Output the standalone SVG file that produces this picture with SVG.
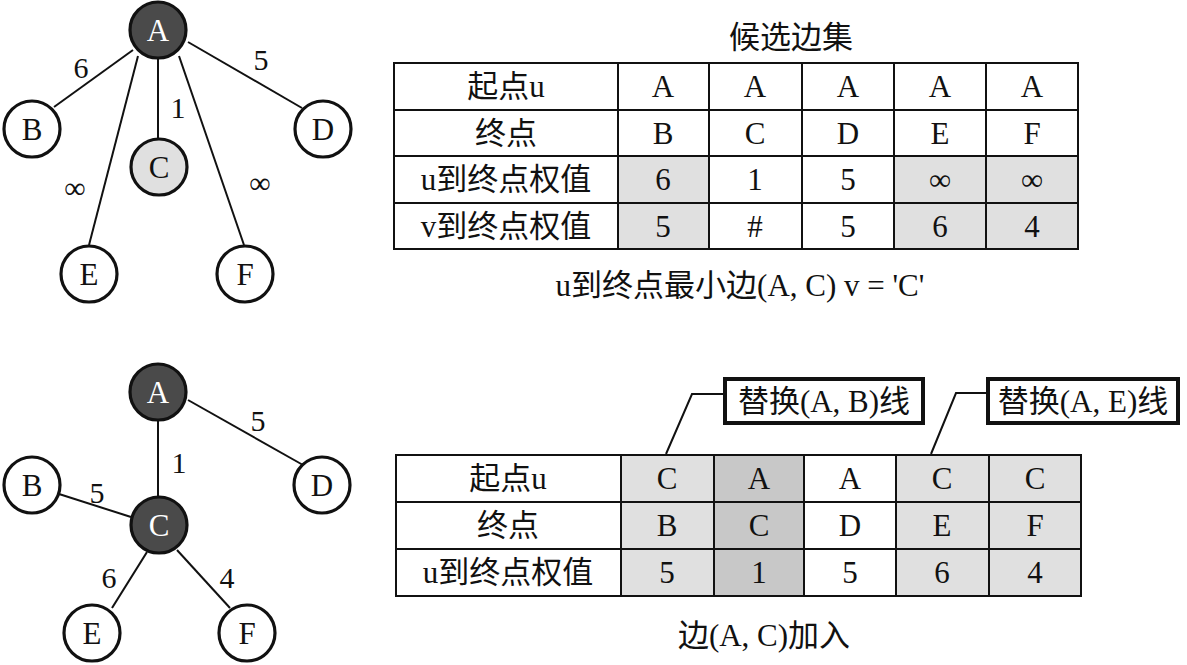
<svg xmlns="http://www.w3.org/2000/svg" width="1187" height="665" viewBox="0 0 1187 665">
<style>
text{font-family:"Liberation Serif","Noto Sans CJK SC",serif;fill:#111;text-anchor:middle}
.n circle{stroke:#111;stroke-width:3.2;fill:#fff}
.n text{font-size:31px}
.dk circle{fill:#4a4a4a}
.dk text{fill:#fff}
.lt circle{fill:#e0e0e0}
.e line{stroke:#111;stroke-width:2}
.w{font-size:30px}
.t{font-size:31px}
.g{fill:#e0e0e0}
.g2{fill:#c8c8c8}
.grid{stroke:#111;stroke-width:2;fill:none}
.cb{fill:#fff;stroke:#111;stroke-width:4}
.ld{stroke:#111;stroke-width:2;fill:none}
</style>
<rect width="1187" height="665" fill="#fff"/>

<!-- top graph connectors -->
<g id="edges-top" class="e">
<line x1="133" y1="50" x2="54" y2="107"/>
<line x1="158" y1="58" x2="158" y2="139"/>
<line x1="138" y1="56" x2="89" y2="245"/>
<line x1="179" y1="56" x2="244" y2="245"/>
<line x1="188" y1="42" x2="302" y2="108"/>
</g>
<g id="edge-labels-top" class="w">
<text x="81" y="78">6</text>
<text x="261" y="70">5</text>
<text x="178" y="118">1</text>
<text x="75" y="198">∞</text>
<text x="260" y="193">∞</text>
</g>
<g id="tA" class="n dk"><circle cx="158" cy="30" r="28"/><text x="158" y="41">A</text></g>
<g id="tB" class="n"><circle cx="32" cy="129" r="28"/><text x="32" y="140">B</text></g>
<g id="tC" class="n lt"><circle cx="159" cy="167" r="28"/><text x="159" y="178">C</text></g>
<g id="tD" class="n"><circle cx="323" cy="129" r="28"/><text x="323" y="140">D</text></g>
<g id="tE" class="n"><circle cx="89" cy="274" r="28"/><text x="89" y="285">E</text></g>
<g id="tF" class="n"><circle cx="245" cy="274" r="28"/><text x="245" y="285">F</text></g>

<!-- bottom graph connectors -->
<g id="edges-bottom" class="e">
<line x1="158" y1="420" x2="158" y2="497"/>
<line x1="188" y1="400" x2="303" y2="465"/>
<line x1="59" y1="494" x2="131" y2="517"/>
<line x1="147" y1="552" x2="112" y2="608"/>
<line x1="177" y1="550" x2="230" y2="608"/>
</g>
<g id="edge-labels-bottom" class="w">
<text x="258" y="431">5</text>
<text x="179" y="473">1</text>
<text x="97" y="503">5</text>
<text x="109" y="588">6</text>
<text x="227" y="588">4</text>
</g>
<g id="bA" class="n dk"><circle cx="158" cy="392" r="28"/><text x="158" y="403">A</text></g>
<g id="bB" class="n"><circle cx="32" cy="485" r="28"/><text x="32" y="496">B</text></g>
<g id="bC" class="n dk"><circle cx="159" cy="525" r="28"/><text x="159" y="536">C</text></g>
<g id="bD" class="n"><circle cx="322" cy="485" r="28"/><text x="322" y="496">D</text></g>
<g id="bE" class="n"><circle cx="92" cy="633" r="28"/><text x="92" y="644">E</text></g>
<g id="bF" class="n"><circle cx="247" cy="633" r="28"/><text x="247" y="644">F</text></g>

<!-- top table -->
<g id="table-top">
<text class="t" x="791" y="48">候选边集</text>
<rect class="g" x="618" y="156" width="91" height="93"/>
<rect class="g" x="894" y="156" width="184" height="93"/>
<rect class="grid" x="394" y="63" width="684" height="186"/>
<path class="grid" d="M394 110H1078M394 156H1078M394 203H1078M618 63V249M709 63V249M802 63V249M894 63V249M986 63V249"/>
<g class="t">
<text x="506" y="97">起点u</text>
<text x="663" y="97">A</text><text x="755" y="97">A</text><text x="848" y="97">A</text><text x="940" y="97">A</text><text x="1032" y="97">A</text>
<text x="506" y="144">终点</text>
<text x="663" y="144">B</text><text x="755" y="144">C</text><text x="848" y="144">D</text><text x="940" y="144">E</text><text x="1032" y="144">F</text>
<text x="506" y="190">u到终点权值</text>
<text x="663" y="190">6</text><text x="755" y="190">1</text><text x="848" y="190">5</text><text x="940" y="190">∞</text><text x="1032" y="190">∞</text>
<text x="506" y="237">v到终点权值</text>
<text x="663" y="237">5</text><text x="755" y="237">#</text><text x="848" y="237">5</text><text x="940" y="237">6</text><text x="1032" y="237">4</text>
</g>
<text class="t" x="740" y="296">u到终点最小边(A, C) v = 'C'</text>
</g>

<!-- bottom table -->
<g id="table-bottom">
<rect class="g" x="621" y="455" width="93" height="141"/>
<rect class="g2" x="714" y="455" width="90" height="141"/>
<rect class="g" x="896" y="455" width="185" height="141"/>
<rect class="grid" x="396" y="455" width="685" height="141"/>
<path class="grid" d="M396 502H1081M396 549H1081M621 455V596M714 455V596M804 455V596M896 455V596M989 455V596"/>
<g class="t">
<text x="508" y="489">起点u</text>
<text x="667" y="489">C</text><text x="759" y="489">A</text><text x="850" y="489">A</text><text x="942" y="489">C</text><text x="1035" y="489">C</text>
<text x="508" y="536">终点</text>
<text x="667" y="536">B</text><text x="759" y="536">C</text><text x="850" y="536">D</text><text x="942" y="536">E</text><text x="1035" y="536">F</text>
<text x="508" y="583">u到终点权值</text>
<text x="667" y="583">5</text><text x="759" y="583">1</text><text x="850" y="583">5</text><text x="942" y="583">6</text><text x="1035" y="583">4</text>
</g>
<text class="t" x="764" y="646">边(A, C)加入</text>
</g>

<!-- callouts -->
<g id="callout-AB">
<path class="ld" d="M725 394H692L666 454"/>
<rect class="cb" x="725" y="379" width="198" height="44"/>
<text class="t" x="824" y="412">替换(A, B)线</text>
</g>
<g id="callout-AE">
<path class="ld" d="M988 393H956L931 454"/>
<rect class="cb" x="988" y="379" width="190" height="44"/>
<text class="t" x="1083" y="412">替换(A, E)线</text>
</g>
</svg>
